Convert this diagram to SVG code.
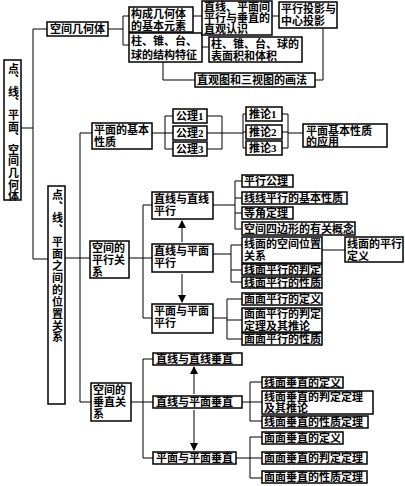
<svg xmlns="http://www.w3.org/2000/svg" width="405" height="486" viewBox="0 0 405 486">
<defs>
<style>
.b{fill:#fff;stroke:#000;stroke-width:1.5}
.t{font-family:"Liberation Serif","Noto Sans CJK SC",serif;font-size:11px;font-weight:bold;fill:#000}
.v{writing-mode:vertical-rl;text-orientation:upright}
.c{fill:none;stroke:#000;stroke-width:1}
</style>
<marker id="ah" viewBox="0 0 8 8" refX="7" refY="4" markerWidth="8" markerHeight="8" markerUnits="userSpaceOnUse" orient="auto-start-reverse">
<path d="M0,0 L8,4 L0,8 Z" fill="#000"/>
</marker>
</defs>
<rect width="405" height="486" fill="#fff"/>
<g id="connectors" class="c">
<path d="M21,128 H33 M33,29 V259 M33,29 H47 M33,259 H48"/>
<path d="M108,29 H123 M123,16 V45 M123,16 H129 M123,45 H129"/>
<path d="M193,16 H202 M272,16 H279 M202,47 H209"/>
<path d="M163,62 V80 H195 M315,80 H323 V28"/>
<path d="M65,258 H80 M80,133 V402 M80,133 H92"/>
<path d="M152,133 H165 M165,116 V149 M165,116 H173 M165,133 H173 M165,149 H173"/>
<path d="M207,116 H222 M207,133 H222 M207,149 H222 M222,116 V149 M222,133 H243"/>
<path d="M243,114 V148 M243,114 H246 M243,132 H246 M243,148 H246"/>
<path d="M282,114 H288 M282,132 H288 M282,148 H288 M288,114 V148 M288,133 H303"/>
<path d="M80,258 H90 M129,258 H152 M143,205 V318 M143,205 H152 M143,318 H152"/>
<path d="M213,205 H235 M235,181 V229 M235,181 H242 M235,198 H242 M235,213 H242 M235,229 H242"/>
<path d="M213,254 H231 M231,245 V282 M231,245 H242 M231,270 H242 M231,282 H242 M322,250 H345"/>
<path d="M213,318 H227 M227,299 V339 M227,299 H242 M227,320 H242 M227,339 H242"/>
<path d="M182,221 V242 M182,274 V302" marker-start="url(#ah)" marker-end="url(#ah)"/>
<path d="M80,402 H91 M131,402 H153 M143,359 V458 M143,359 H153 M143,458 H153"/>
<path d="M194,367 V394 M194,410 V450" marker-start="url(#ah)" marker-end="url(#ah)"/>
<path d="M242,402 H250 M250,382 V421 M250,382 H262 M250,402 H262 M250,421 H262"/>
<path d="M236,458 H250 M250,437 V478 M250,437 H262 M250,458 H262 M250,478 H262"/>
</g>
<g id="root"><rect class="b" x="4" y="60" width="17" height="140"/><text class="t v" x="12.5" y="63" style="letter-spacing:0.6px">点、线、平面、空间几何体</text></g>
<g id="n-kjjht"><rect class="b" x="47" y="22" width="61" height="14"/><text class="t" x="50" y="33">空间几何体</text></g>
<g id="n-gc"><rect class="b" x="129" y="7" width="64" height="25"/><text class="t" x="131" y="18">构成几何体</text><text class="t" x="131" y="30">的基本元素</text></g>
<g id="n-jgtz"><rect class="b" x="129" y="33" width="73" height="29"/><text class="t" x="131" y="45">柱、锥、台、</text><text class="t" x="131" y="59">球的结构特征</text></g>
<g id="n-zgrs"><rect class="b" x="202" y="1" width="70" height="34"/><text class="t" x="204" y="11">直线、平面间</text><text class="t" x="204" y="22">平行与垂直的</text><text class="t" x="204" y="33">直观认识</text></g>
<g id="n-tyty"><rect class="b" x="279" y="2" width="58" height="26"/><text class="t" x="281" y="13">平行投影与</text><text class="t" x="281" y="25">中心投影</text></g>
<g id="n-bmj"><rect class="b" x="209" y="37" width="93" height="25"/><text class="t" x="211" y="48">柱、锥、台、球的</text><text class="t" x="211" y="60">表面积和体积</text></g>
<g id="n-zgt"><rect class="b" x="195" y="73" width="120" height="14"/><text class="t" x="197" y="84">直观图和三视图的画法</text></g>
<g id="n-wz"><rect class="b" x="48" y="186" width="17" height="218"/><text class="t v" x="56.5" y="189" style="letter-spacing:0.9px">点、线、平面之间的位置关系</text></g>
<g id="n-jbxz"><rect class="b" x="92" y="123" width="60" height="26"/><text class="t" x="94" y="134">平面的基本</text><text class="t" x="94" y="146">性质</text></g>
<g id="n-gl1"><rect class="b" x="173" y="109" width="34" height="14"/><text class="t" x="176" y="120">公理1</text></g>
<g id="n-gl2"><rect class="b" x="173" y="126" width="34" height="14"/><text class="t" x="176" y="137">公理2</text></g>
<g id="n-gl3"><rect class="b" x="173" y="142" width="34" height="14"/><text class="t" x="176" y="153">公理3</text></g>
<g id="n-tl1"><rect class="b" x="246" y="107" width="36" height="14"/><text class="t" x="249" y="118">推论1</text></g>
<g id="n-tl2"><rect class="b" x="246" y="125" width="36" height="14"/><text class="t" x="249" y="136">推论2</text></g>
<g id="n-tl3"><rect class="b" x="246" y="141" width="36" height="14"/><text class="t" x="249" y="152">推论3</text></g>
<g id="n-yy"><rect class="b" x="303" y="124" width="84" height="23"/><text class="t" x="306" y="135">平面基本性质</text><text class="t" x="306" y="146">的应用</text></g>
<g id="n-pxgx"><rect class="b" x="90" y="241" width="39" height="37"/><text class="t" x="92" y="252">空间的</text><text class="t" x="92" y="264">平行关</text><text class="t" x="92" y="276">系</text></g>
<g id="n-xxpx"><rect class="b" x="152" y="192" width="61" height="27"/><text class="t" x="154" y="203">直线与直线</text><text class="t" x="154" y="215">平行</text></g>
<g id="n-xmpx"><rect class="b" x="152" y="244" width="61" height="28"/><text class="t" x="154" y="255">直线与平面</text><text class="t" x="154" y="267">平行</text></g>
<g id="n-mmpx"><rect class="b" x="152" y="304" width="61" height="29"/><text class="t" x="154" y="315">平面与平面</text><text class="t" x="154" y="327">平行</text></g>
<g id="n-pxgl"><rect class="b" x="242" y="175" width="51" height="12"/><text class="t" x="244" y="185">平行公理</text></g>
<g id="n-xxjb"><rect class="b" x="242" y="192" width="105" height="12"/><text class="t" x="244" y="202">线线平行的基本性质</text></g>
<g id="n-djdl"><rect class="b" x="242" y="207" width="51" height="12"/><text class="t" x="244" y="217">等角定理</text></g>
<g id="n-sbx"><rect class="b" x="242" y="222" width="113" height="13"/><text class="t" x="244" y="233">空间四边形的有关概念</text></g>
<g id="n-xmwz"><rect class="b" x="242" y="237" width="80" height="26"/><text class="t" x="244" y="248">线面的空间位置</text><text class="t" x="244" y="260">关系</text></g>
<g id="n-xmpd"><rect class="b" x="242" y="264" width="80" height="11"/><text class="t" x="244" y="274">线面平行的判定</text></g>
<g id="n-xmxz"><rect class="b" x="242" y="277" width="80" height="11"/><text class="t" x="244" y="287">线面平行的性质</text></g>
<g id="n-xmdy"><rect class="b" x="345" y="237" width="58" height="25"/><text class="t" x="347" y="248">线面的平行</text><text class="t" x="347" y="260">定义</text></g>
<g id="n-mmdy"><rect class="b" x="242" y="293" width="80" height="12"/><text class="t" x="244" y="303">面面平行的定义</text></g>
<g id="n-mmpd"><rect class="b" x="242" y="308" width="80" height="24"/><text class="t" x="244" y="318">面面平行的判定</text><text class="t" x="244" y="330">定理及其推论</text></g>
<g id="n-mmxz"><rect class="b" x="242" y="333" width="80" height="12"/><text class="t" x="244" y="343">面面平行的性质</text></g>
<g id="n-czgx"><rect class="b" x="91" y="383" width="40" height="38"/><text class="t" x="93" y="394">空间的</text><text class="t" x="93" y="406">垂直关</text><text class="t" x="93" y="418">系</text></g>
<g id="n-xxcz"><rect class="b" x="153" y="353" width="89" height="12"/><text class="t" x="156" y="363">直线与直线垂直</text></g>
<g id="n-xmcz"><rect class="b" x="153" y="396" width="89" height="12"/><text class="t" x="156" y="406">直线与平面垂直</text></g>
<g id="n-mmcz"><rect class="b" x="153" y="452" width="83" height="12"/><text class="t" x="156" y="462">平面与平面垂直</text></g>
<g id="n-xmczdy"><rect class="b" x="262" y="377" width="81" height="11"/><text class="t" x="264" y="387">线面垂直的定义</text></g>
<g id="n-xmczpd"><rect class="b" x="262" y="391" width="111" height="23"/><text class="t" x="264" y="401">线面垂直的判定定理</text><text class="t" x="264" y="412">及其推论</text></g>
<g id="n-xmczxz"><rect class="b" x="262" y="416" width="106" height="12"/><text class="t" x="264" y="426">线面垂直的性质定理</text></g>
<g id="n-mmczdy"><rect class="b" x="262" y="432" width="81" height="12"/><text class="t" x="264" y="442">面面垂直的定义</text></g>
<g id="n-mmczpd"><rect class="b" x="262" y="452" width="105" height="12"/><text class="t" x="264" y="462">面面垂直的判定定理</text></g>
<g id="n-mmczxz"><rect class="b" x="262" y="471" width="105" height="12"/><text class="t" x="264" y="481">面面垂直的性质定理</text></g>
</svg>
